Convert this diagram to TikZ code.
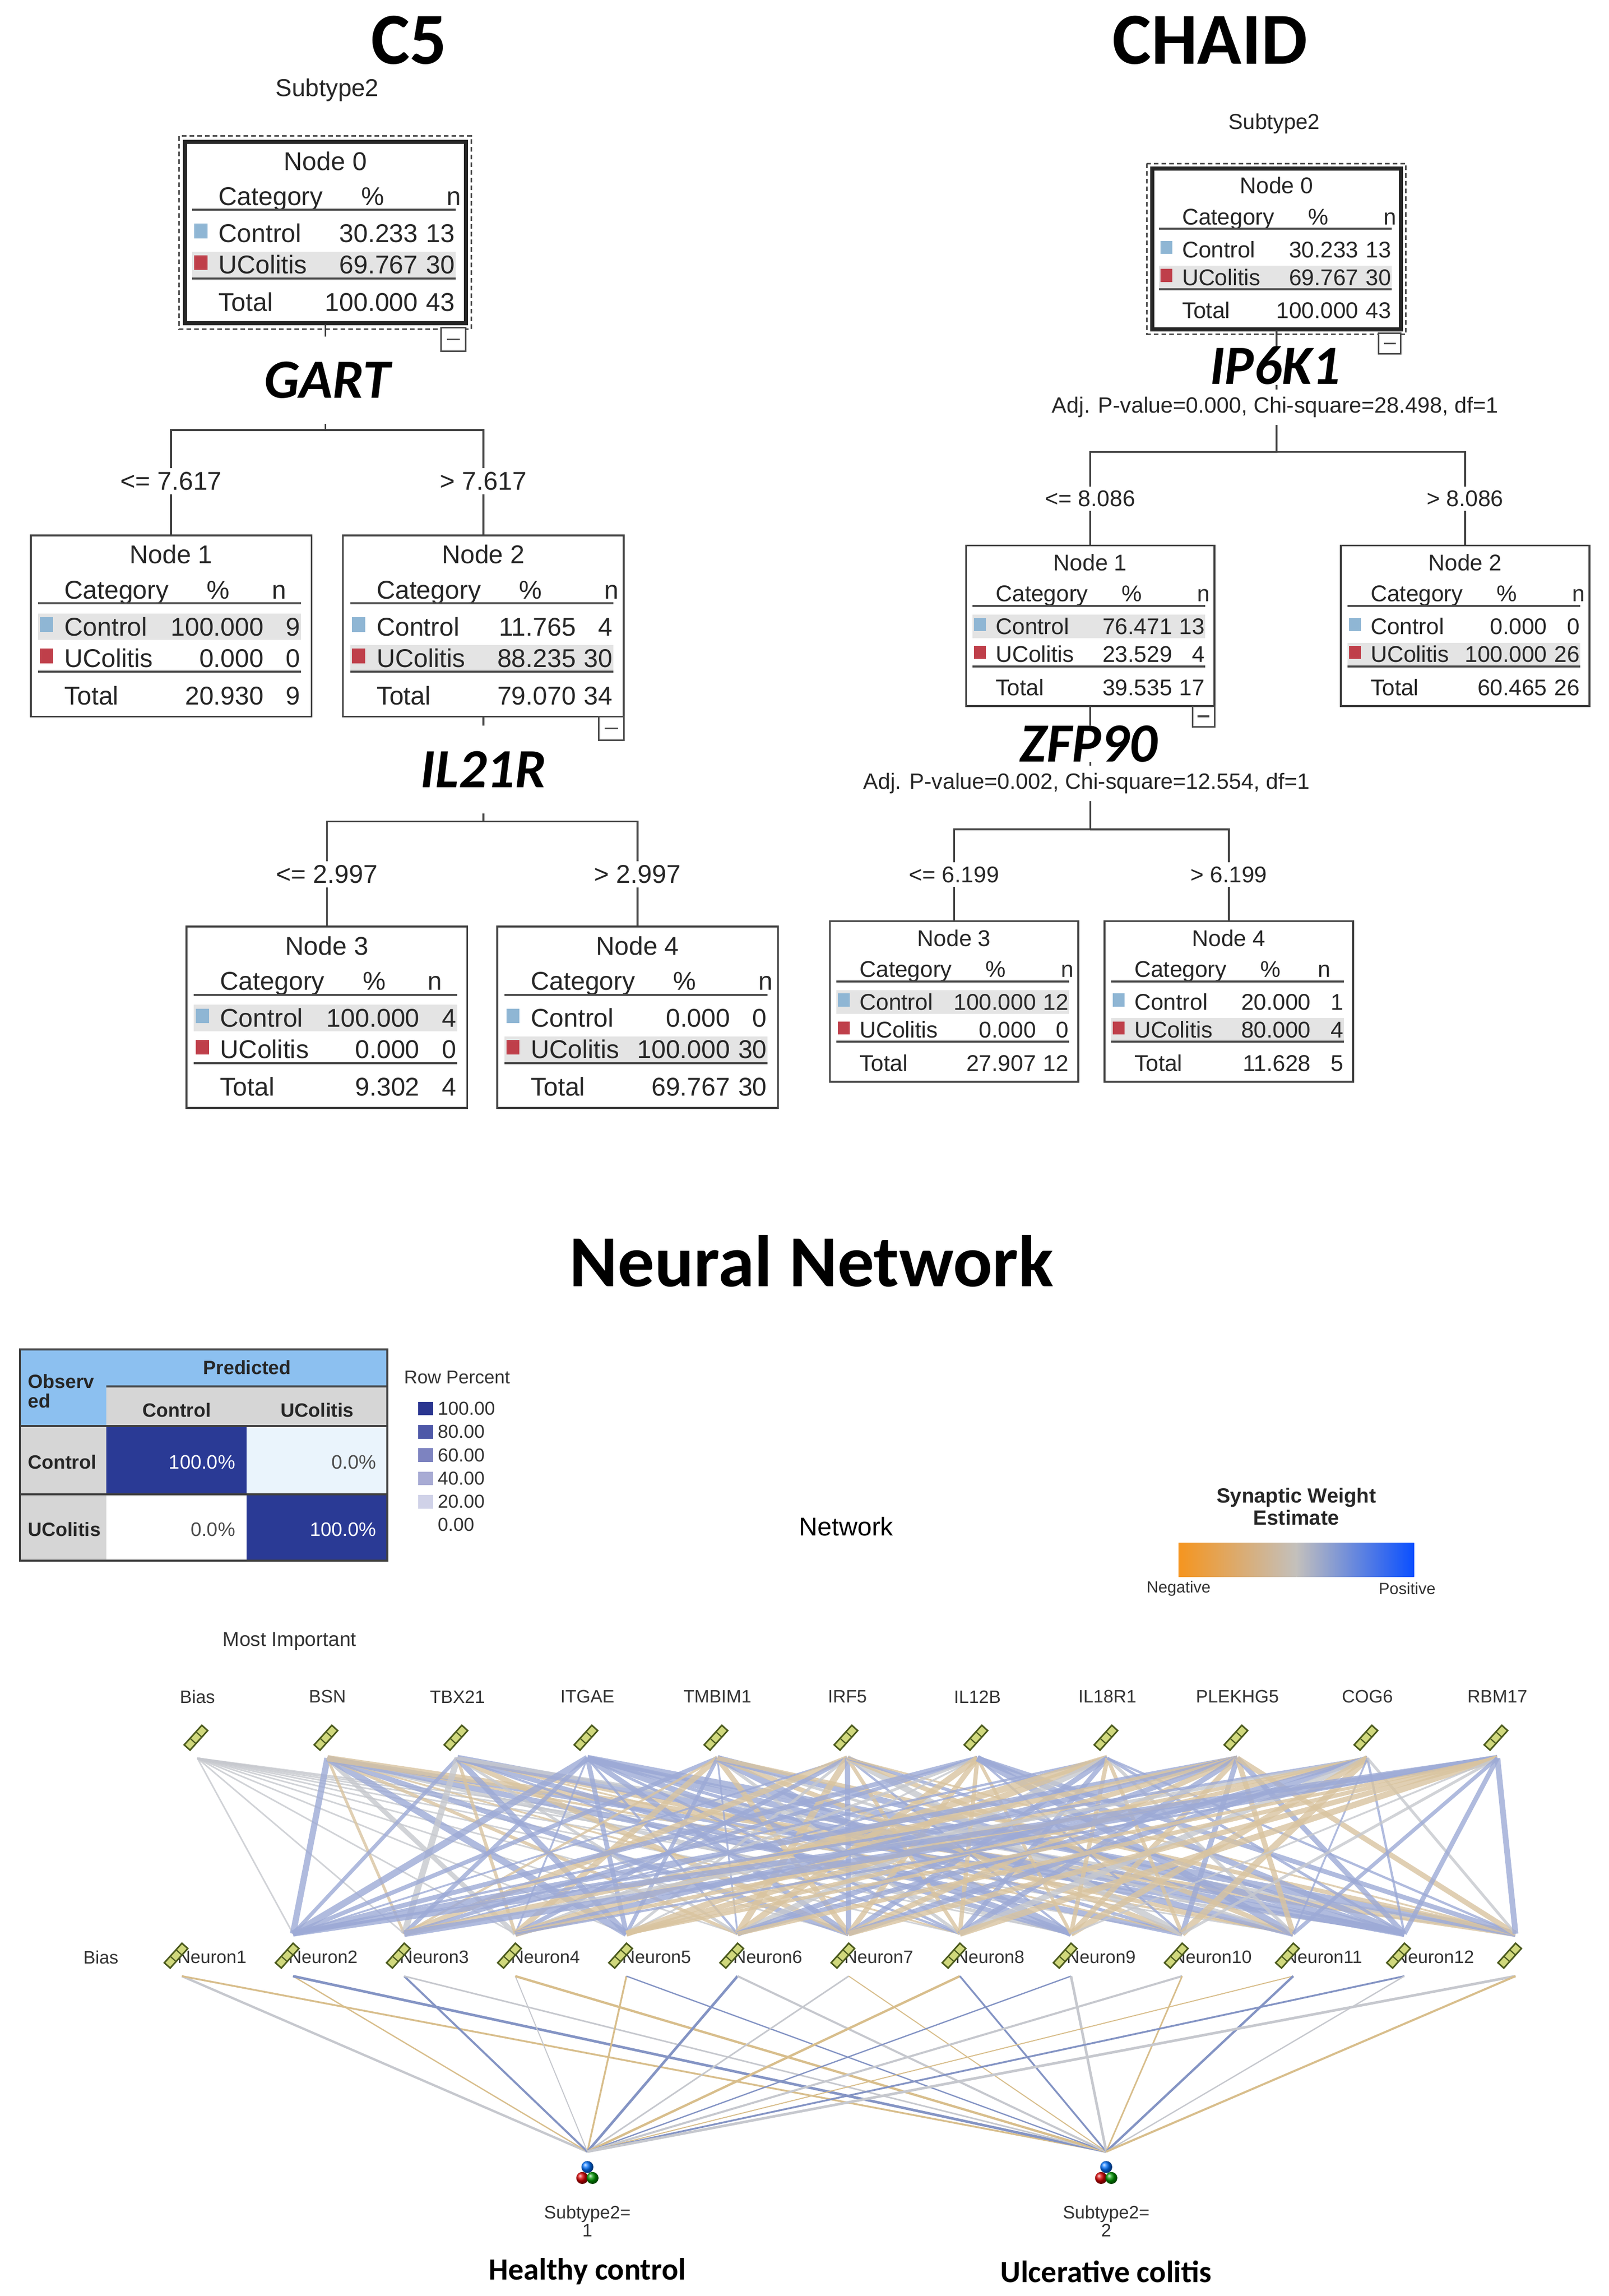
\documentclass[tikz,border=0pt]{standalone}
\usepackage{fontspec}
\setmainfont{Liberation Sans}
\newfontfamily\calfont{Carlito}

\definecolor{dtband}{HTML}{E4E4E4}
\definecolor{ctrlblue}{HTML}{8FB6D4}
\definecolor{ucred}{HTML}{BF3F4A}
\definecolor{cmblue}{HTML}{8CC0F0}
\definecolor{cmgray}{HTML}{D6D6D6}
\definecolor{cmnavy}{HTML}{2A3A95}
\definecolor{cmpale}{HTML}{EAF4FC}
\definecolor{lgA}{HTML}{2A3590}
\definecolor{lgB}{HTML}{4E58A8}
\definecolor{lgC}{HTML}{7D83C0}
\definecolor{lgD}{HTML}{A8ABD4}
\definecolor{lgE}{HTML}{D0D2E8}
\definecolor{synorange}{HTML}{F5951F}
\definecolor{synmid}{HTML}{C3C0BC}
\definecolor{synblue}{HTML}{0A4FFF}
\definecolor{wpos}{HTML}{9DAAD6}
\definecolor{wneg}{HTML}{D9C4A0}
\definecolor{wzero}{HTML}{C6C8CE}
\definecolor{opos}{HTML}{8494C4}
\definecolor{oneg}{HTML}{D8BE8C}
\definecolor{iconfill}{HTML}{D0D87C}
\definecolor{iconline}{HTML}{4B5A1E}

\tikzset{
  titlelab/.style={font=\calfont\bfseries\fontsize{28.5}{30}\selectfont, inner sep=0pt},
  genelab/.style={font=\calfont\bfseries\itshape\fontsize{21.5}{24}\selectfont, fill=white, inner sep=0pt},
  adjlab/.style={font=\fontsize{8.6}{10}\selectfont, text=black!85, fill=white, inner xsep=1pt, inner ysep=1mm},
  dtbox/.style={draw=black!75, line width=0.7pt, minimum width=38.4mm, minimum height=24.8mm, inner sep=0pt},
  dttext/.style={font=\fontsize{10}{12}\selectfont, text=black!85, inner sep=0pt},
  dtrule/.style={black!70, line width=0.8pt},
  dtlink/.style={black!75, line width=0.7pt},
  splitlab/.style={fill=white, text=black!85, inner xsep=1pt, inner ysep=1.6pt},
  cmhead/.style={font=\bfseries\fontsize{7.5}{7.7}\selectfont, text=black!85, inner sep=0pt},
  cmval/.style={font=\fontsize{7.6}{9}\selectfont, inner sep=0pt, anchor=east},
  cmline/.style={black!75, line width=0.8pt},
  nnlab/.style={font=\fontsize{7}{6.8}\selectfont, text=black!80, inner sep=0pt},
  scaleicon/.pic={
    \begin{scope}[rotate=-42]
      \draw[iconline, fill=iconfill, line width=0.6pt] (-2.7,-9) rectangle (2.7,9);
      \draw[iconline, line width=0.45pt] (-2.7,-3) -- (2.7,-3) (-2.7,3) -- (2.7,3);
    \end{scope}}
}

% one decision-tree box: name, top-left, number, control %, n, ucolitis %, n, total %, extras
\newcommand{\dtscale}{1}
\newcommand{\dtnode}[9]{%
  \begin{scope}[shift={#2}, scale=\dtscale, transform shape]
    \ifnum#5>#7\relax
      \fill[dtband] (5,53.5) rectangle (185,71.5);
    \else
      \fill[dtband] (5,75) rectangle (185,93);
    \fi
    \node[dtbox] (#1) at (96,62) {};
    \node[dttext, anchor=base] at (96,19.3) {Node #3};
    \node[dttext, anchor=base west] at (22.7,43.3) {Category};
    \node[dttext, anchor=base] at (128.3,43.3) {\%};
    \ifnum\numexpr#5+#7\relax<10
      \node[dttext, anchor=base east] at (175,43.3) {n};
    \else
      \node[dttext, anchor=base east] at (189,43.3) {n};
    \fi
    \draw[dtrule] (5,46.5) -- (185,46.5);
    \fill[ctrlblue] (6.3,56) rectangle (15.3,66);
    \node[dttext, anchor=base west] at (22.7,68.7) {Control};
    \node[dttext, anchor=base east] at (159.7,68.7) {#4};
    \node[dttext, anchor=base east] at (184.8,68.7) {#5};
    \fill[ucred] (6.3,77.5) rectangle (15.3,87.5);
    \node[dttext, anchor=base west] at (22.7,90.2) {UColitis};
    \node[dttext, anchor=base east] at (159.7,90.2) {#6};
    \node[dttext, anchor=base east] at (184.8,90.2) {#7};
    \draw[dtrule] (5,93.3) -- (185,93.3);
    \node[dttext, anchor=base west] at (22.7,115.8) {Total};
    \node[dttext, anchor=base east] at (159.7,115.8) {#8};
    \node[dttext, anchor=base east] at (184.8,115.8) {\the\numexpr#5+#7\relax};
    #9
  \end{scope}}
\newcommand{\dtroot}{%
  \draw[black!85, line width=1.6pt] (0,0) rectangle (192,124);
  \draw[black!70, line width=0.6pt, dash pattern=on 1.8pt off 1.2pt] (-4,-4) rectangle (196,128);}
\newcommand{\dtminus}[1]{%
  \draw[black!70, line width=0.6pt, fill=white] (175,#1) rectangle (192,{#1+16});
  \draw[black!70, line width=0.7pt] (179,{#1+8}) -- (188,{#1+8});}

\begin{document}
\begin{tikzpicture}[x=0.2mm, y=-0.2mm]
  \fill[white] (0,0) rectangle (1100,1569.7);
  \useasboundingbox (0,0) rectangle (1100,1569.7);

  % C5 tree
  \node[titlelab] (c5title) at (279.7,27.6) {C5};
  \node[font=\fontsize{9.5}{11}\selectfont, text=black!85, inner sep=0pt] (c5target) at (223.8,61.7) {Subtype2};
  \dtnode{c5n0}{(126.5,97)}{0}{30.233}{13}{69.767}{30}{100.000}{\dtroot\dtminus{127}}
  \dtnode{c5n1}{(21,366)}{1}{100.000}{9}{0.000}{0}{20.930}{}
  \dtnode{c5n2}{(234.5,366)}{2}{11.765}{4}{88.235}{30}{79.070}{\dtminus{124}}
  \dtnode{c5n3}{(127.6,633.5)}{3}{100.000}{4}{0.000}{0}{9.302}{}
  \dtnode{c5n4}{(340,633.5)}{4}{0.000}{0}{100.000}{30}{69.767}{}
  \coordinate (c5s0) at (222.5,294);
  \coordinate (c5s2) at (330.5,561.5);
  \draw[dtlink] (c5n0.south) -- (c5s0) -| (c5n1.north);
  \draw[dtlink] (c5s0) -| (c5n2.north);
  \draw[dtlink] (c5n2.south) -- (c5s2) -| (c5n3.north);
  \draw[dtlink] (c5s2) -| (c5n4.north);
  \node[genelab, minimum height=12mm, minimum width=24mm] (gart) at (223.8,260) {GART};
  \node[genelab, minimum height=12mm, minimum width=24mm] (il21r) at (330.5,526) {IL21R};
  \begin{scope}[font=\fontsize{10}{12}\selectfont]
    \node[splitlab] (c5l1) at (117,329) {<= 7.617};
    \node[splitlab] (c5l2) at (330.5,329) {> 7.617};
    \node[splitlab] (c5l3) at (223.6,597.7) {<= 2.997};
    \node[splitlab] (c5l4) at (436,597.7) {> 2.997};
  \end{scope}

  % CHAID tree
  \node[titlelab] (chtitle) at (827.5,27.6) {CHAID};
  \node[font=\fontsize{8.4}{10}\selectfont, text=black!85, inner sep=0pt] (chtarget) at (871.4,84.5) {Subtype2};
  \renewcommand{\dtscale}{0.885}
  \dtnode{chn0}{(788,115.3)}{0}{30.233}{13}{69.767}{30}{100.000}{\dtroot\dtminus{127}}
  \dtnode{chn1}{(660.6,373)}{1}{76.471}{13}{23.529}{4}{39.535}{\dtminus{124}}
  \dtnode{chn2}{(917,373)}{2}{0.000}{0}{100.000}{26}{60.465}{}
  \dtnode{chn3}{(567.5,629.7)}{3}{100.000}{12}{0.000}{0}{27.907}{}
  \dtnode{chn4}{(755.4,629.7)}{4}{20.000}{1}{80.000}{4}{11.628}{}
  \coordinate (chs0) at (873,309);
  \coordinate (chs1) at (745.6,567);
  \draw[dtlink] (chn0.south) -- (chs0) -| (chn1.north);
  \draw[dtlink] (chs0) -| (chn2.north);
  \draw[dtlink] (chn1.south) -- (chs1) -| (chn3.north);
  \draw[dtlink] (chs1) -| (chn4.north);
  \node[adjlab] (adj0) at (872,278.5) {Adj. P-value=0.000, Chi-square=28.498, df=1};
  \node[adjlab] (adj1) at (743,535.5) {Adj. P-value=0.002, Chi-square=12.554, df=1};
  \node[genelab] (ip6k1) at (872,250) {IP6K1};
  \node[genelab] (zfp90) at (744.6,508.5) {ZFP90};
  \begin{scope}[font=\fontsize{8.85}{10}\selectfont]
    \node[splitlab] (chl1) at (745.6,341) {<= 8.086};
    \node[splitlab] (chl2) at (1002,341) {> 8.086};
    \node[splitlab] (chl3) at (652.5,598) {<= 6.199};
    \node[splitlab] (chl4) at (840.4,598) {> 6.199};
  \end{scope}

  % Neural network
  \node[titlelab] (nntitle) at (555,862) {Neural Network};

  % classification table
  \fill[cmblue] (13.6,922.5) rectangle (265,948);
  \fill[cmblue] (13.6,948) rectangle (72.8,975);
  \fill[cmgray] (72.8,948) rectangle (265,975);
  \fill[cmgray] (13.6,975) rectangle (72.8,1067);
  \fill[cmnavy] (72.8,975) rectangle (168.7,1021.5);
  \fill[cmpale] (168.7,975) rectangle (265,1021.5);
  \fill[cmnavy] (168.7,1021.5) rectangle (265,1067);
  \draw[cmline] (72.8,948) -- (265,948);
  \draw[cmline] (13.6,975) -- (265,975);
  \draw[cmline] (13.6,1021.5) -- (265,1021.5);
  \draw[cmline] (13.6,922.5) rectangle (265,1067);
  \node[cmhead] (cmpred) at (169,935) {Predicted};
  \node[cmhead, anchor=west, align=left] (cmobs) at (18.7,951) {Observ\\ed};
  \node[cmhead] (cmc1) at (120.9,964) {Control};
  \node[cmhead] (cmc2) at (217,964) {UColitis};
  \node[cmhead, anchor=west] (cmr1) at (18.7,999.5) {Control};
  \node[cmhead, anchor=west] (cmr2) at (18.7,1045.5) {UColitis};
  \node[cmval, text=white] (cm11) at (161.2,999.5) {100.0\%};
  \node[cmval, text=black!70] (cm12) at (257.5,999.5) {0.0\%};
  \node[cmval, text=black!70] (cm21) at (161.2,1045.5) {0.0\%};
  \node[cmval, text=white] (cm22) at (257.5,1045.5) {100.0\%};
  \node[nnlab, font=\fontsize{7.2}{8}\selectfont, anchor=west] (rowpct) at (276,941.7) {Row Percent};
  \foreach \v/\c [count=\k from 0] in {100.00/lgA, 80.00/lgB, 60.00/lgC, 40.00/lgD, 20.00/lgE}{
    \fill[\c] (286,{963+15.9*\k-4.7}) rectangle (296,{963+15.9*\k+4.7});
    \node[nnlab, font=\fontsize{7.3}{8}\selectfont, anchor=west] (lg\k) at (299,{963+15.9*\k}) {\v};
  }
  \node[nnlab, font=\fontsize{7.3}{8}\selectfont, anchor=west] (lg5) at (299,1042.5) {0.00};

  % weight legend
  \node[font=\fontsize{10}{12}\selectfont, inner sep=0pt] (nettitle) at (578.7,1043.5) {Network};
  \node[cmhead, font=\bfseries\fontsize{8}{7.4}\selectfont, align=center] (synt) at (886.5,1030) {Synaptic Weight\\Estimate};
  \shade[left color=synorange, right color=synmid] (806,1055) rectangle (886.5,1078);
  \shade[left color=synmid, right color=synblue] (886.5,1055) rectangle (967,1078);
  \node[nnlab, font=\fontsize{6.3}{7}\selectfont] (synneg) at (806,1086) {Negative};
  \node[nnlab, font=\fontsize{6.3}{7}\selectfont] (synpos) at (962.3,1086) {Positive};

  % layers
  \node[nnlab, font=\fontsize{7.8}{9}\selectfont] (mostimp) at (198,1122) {Most Important};
  \foreach \lab [count=\i from 0] in {Bias,BSN,TBX21,ITGAE,TMBIM1,IRF5,IL12B,IL18R1,PLEKHG5,COG6,RBM17}{
    \node[nnlab] (inlab\i) at ({135+88.9*\i},1160) {\lab};
    \coordinate (in\i) at ({135+88.9*\i},1202);
  }
  \foreach \j in {0,...,12}{
    \coordinate (hid\j) at ({124.4+76*\j},1322);
    \coordinate (hido\j) at ({124.4+76*\j},1351);
  }
  \coordinate (out1) at (401.7,1471);
  \coordinate (out2) at (756.5,1471);

  % synapses
  \foreach \i in {0,...,10}{
    \foreach \j in {1,...,12}{
      \pgfmathtruncatemacro\k{mod(7*\i+11*\j+3*\i*\j,10)}
      \pgfmathsetmacro\lw{0.7+0.19*mod(5*\i+3*\j+\i*\j,11)}
      \ifnum\i=0 \def\lc{wzero}\def\lw{0.6}\else
        \ifnum\k<4 \def\lc{wpos}\else\ifnum\k<8 \def\lc{wneg}\else\def\lc{wzero}\fi\fi
      \fi
      \draw[\lc, line width=\lw pt, opacity=0.8] (in\i) -- (hid\j);
    }
  }
  \foreach \j in {0,...,12}{
    \foreach \o in {1,2}{
      \pgfmathtruncatemacro\k{mod(2*\j+5*\o,3)}
      \pgfmathsetmacro\lw{0.4+0.1*mod(3*\j+5*\o,7)}
      \ifcase\k \def\lc{opos}\or\def\lc{oneg}\else\def\lc{wzero}\fi
      \draw[\lc, line width=\lw pt] (hido\j) -- (out\o);
    }
  }

  % unit icons and names
  \foreach \i in {0,...,10}{
    \pic at ({134+88.9*\i},1188) {scaleicon};
  }
  \node[nnlab] (hidlab0) at (69,1338) {Bias};
  \foreach \j in {1,...,12}{
    \node[nnlab] (hidlab\j) at ({124.4+76*\j-55.4},1338) {Neuron\j};
  }
  \foreach \j in {0,...,12}{
    \pic at ({120.4+76*\j},1337) {scaleicon};
  }
  \foreach \x/\o/\name in {401.7/1/Healthy control, 756.5/2/Ulcerative colitis}{
    \shade[ball color=blue!55!cyan] (\x,1481.5) circle (4.1);
    \shade[ball color=red!85!black] ({\x-3.5},1489) circle (4.1);
    \shade[ball color=green!60!black] ({\x+3.5},1489) circle (4.1);
    \node[nnlab, align=center] (outlab\o) at (\x,1518.5) {Subtype2=\\\o};
    \node[font=\calfont\bfseries\fontsize{12}{14}\selectfont, inner sep=0pt] (outname\o) at (\x,1553) {\name};
  }
\end{tikzpicture}
\end{document}
